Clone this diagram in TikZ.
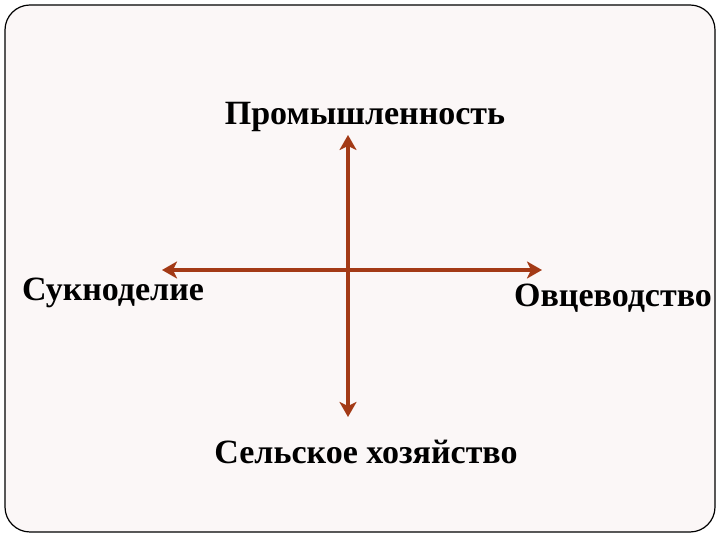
\documentclass[tikz,border=0pt]{standalone}
\usepackage{fontspec}
\setmainfont{Liberation Serif}
\usetikzlibrary{arrows.meta}
\definecolor{rust}{RGB}{163,58,22}
\definecolor{slide}{RGB}{251,247,247}
\tikzset{
  lbl/.style={anchor=base,font=\fontsize{34}{40}\selectfont\bfseries},
  }
\begin{document}
\begin{tikzpicture}[
        >={Stealth[length=15pt,width=17pt,inset=4pt]},
        x=1pt,y=1pt,
        ]
        \useasboundingbox (0,0) rectangle (720,540);
        \draw[line width=1.2pt,fill=slide,rounded corners=25pt] (5,8) rectangle (715,535);
        \coordinate (c) at (348,270);
        \coordinate (up) at (348,405);
        \coordinate (down) at (348,123);
        \coordinate (west) at (162,270);
        \coordinate (east) at (542,270);
        \draw[<->,rust,line width=4.5pt] (down) to (up);
        \draw[<->,rust,line width=4.5pt] (west) to (east);
        \node[lbl] (ind) at (365,415){Промышленность};
        \node[lbl] (cloth) at (113,239){Сукноделие};
        \node[lbl] (sheep) at (613,233){Овцеводство};
        \node[lbl] (agri) at (366,76){Сельское хозяйство};
\end{tikzpicture}
\end{document}
